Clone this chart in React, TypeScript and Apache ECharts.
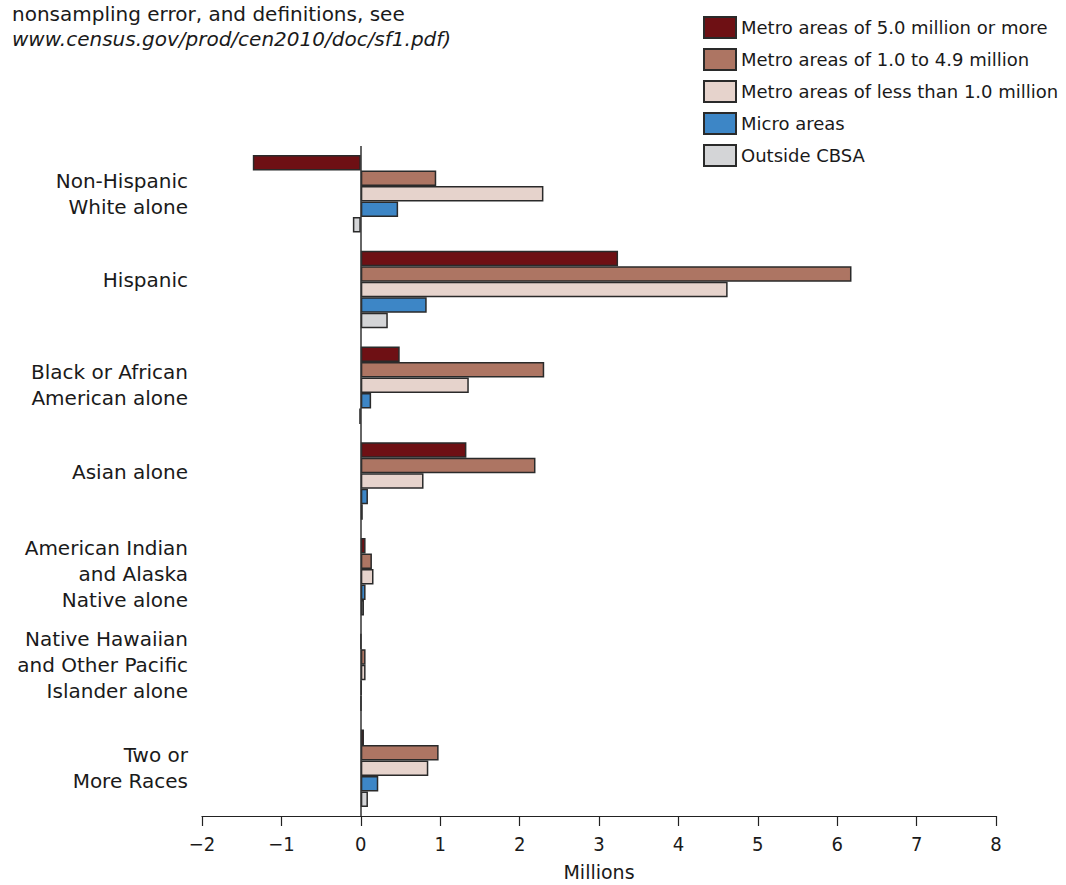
import React, { useEffect, useRef } from "react";
import * as echarts from "echarts";

const categories = [
  "Non-Hispanic\nWhite alone",
  "Hispanic",
  "Black or African\nAmerican alone",
  "Asian alone",
  "American Indian\nand Alaska\nNative alone",
  "Native Hawaiian\nand Other Pacific\nIslander alone",
  "Two or\nMore Races",
];

const seriesNames = [
  "Metro areas of 5.0 million or more",
  "Metro areas of 1.0 to 4.9 million",
  "Metro areas of less than 1.0 million",
  "Micro areas",
  "Outside CBSA",
];

const metroLarge = [-1.36, 3.24, 0.49, 1.33, 0.06, 0.003, 0.04];
const metroMid = [0.95, 6.18, 2.31, 2.2, 0.14, 0.06, 0.98];
const metroSmall = [2.3, 4.62, 1.36, 0.79, 0.16, 0.06, 0.85];
const micro = [0.47, 0.83, 0.13, 0.09, 0.06, 0.01, 0.22];
const outside = [-0.1, 0.34, -0.02, 0.025, 0.04, 0.005, 0.09];

const seriesData = [metroLarge, metroMid, metroSmall, micro, outside];
const colors = ["#6e1014", "#ad7563", "#e6d3cc", "#3d86c6", "#d4d5d7"];

const FONT = "'DejaVu Sans', 'Noto Sans', sans-serif";
const TICK_FONT = "'DejaVu Sans Condensed', 'Liberation Sans Narrow', 'Open Sans', sans-serif";

// label vertical nudges (style only): [spacer above, spacer below] in px
const labelNudge: [number, number][] = [
  [0, 0],
  [0, 20],
  [0, 0],
  [0, 18],
  [0, 6],
  [0, 14],
  [0, 0],
];

export default function App() {
  const ref = useRef<HTMLDivElement>(null);
  useEffect(() => {
    if (!ref.current) return;
    const chart = echarts.init(ref.current, undefined, { renderer: "svg" });
    const rich: Record<string, any> = {
      n: { fontSize: 20, lineHeight: 26, color: "#1a1a1a", fontFamily: FONT, align: "right" },
    };
    labelNudge.forEach(([t, b]) => {
      [t, b].forEach((h) => {
        if (h > 0) rich[`sp${h}`] = { fontSize: 1, lineHeight: h, height: h, align: "right" };
      });
    });
    chart.setOption({
      animation: false,
      backgroundColor: "#ffffff",
      textStyle: { fontFamily: FONT },
      graphic: [
        {
          type: "text",
          left: 12,
          top: 4,
          style: {
            text: "nonsampling error, and definitions, see",
            font: `20px ${FONT}`,
            fill: "#1a1a1a",
          },
        },
        {
          type: "text",
          left: 12,
          top: 29,
          style: {
            text: "www.census.gov/prod/cen2010/doc/sf1.pdf)",
            font: `italic 20px ${FONT}`,
            fill: "#1a1a1a",
          },
        },
      ],
      legend: {
        orient: "vertical",
        left: 698,
        top: 11,
        itemWidth: 32,
        itemHeight: 21,
        itemGap: 9,
        icon: "rect",
        textStyle: { fontSize: 18, lineHeight: 21, color: "#1a1a1a", fontFamily: FONT },
        data: seriesNames,
      },
      grid: { left: 202, width: 794, top: 146, height: 670, outerBoundsMode: "none", containLabel: false },
      xAxis: {
        type: "value",
        min: -2,
        max: 8,
        interval: 1,
        splitLine: { show: false },
        axisLine: { show: true, onZero: false, lineStyle: { color: "#222", width: 1.2 } },
        axisTick: { show: true, length: 10, lineStyle: { color: "#222", width: 1.2 } },
        axisLabel: {
          fontSize: 20,
          fontFamily: TICK_FONT,
          color: "#1a1a1a",
          margin: 18,
          formatter: (v: number) => (v < 0 ? "\u2212" + Math.abs(v) : String(v)),
        },
        name: "Millions",
        nameLocation: "middle",
        nameGap: 46,
        nameTextStyle: { fontSize: 19, lineHeight: 20, color: "#1a1a1a", fontFamily: FONT },
      },
      yAxis: {
        type: "category",
        inverse: true,
        data: categories,
        axisLine: { show: false },
        axisTick: { show: false },
        axisLabel: {
          margin: 14,
          align: "right",
          fontSize: 20,
          lineHeight: 26,
          color: "#1a1a1a",
          fontFamily: FONT,
          formatter: (value: string, index: number) => {
            const [t, b] = labelNudge[index] || [0, 0];
            const lines = value.split("\n").map((l) => `{n|${l}}`);
            if (t > 0) lines.unshift(`{sp${t}|\u00a0}`);
            if (b > 0) lines.push(`{sp${b}|\u00a0}`);
            return lines.join("\n");
          },
          rich,
        },
      },
      series: seriesData.map((d, i) => ({
        name: seriesNames[i],
        type: "bar",
        data: d,
        barGap: "0%",
        barCategoryGap: "19%",
        itemStyle: { color: colors[i], borderColor: "#2a2a2a", borderWidth: 1.5 },
        markLine:
          i === 0
            ? {
                silent: true,
                symbol: "none",
                label: { show: false },
                lineStyle: { color: "#333", width: 1.5, type: "solid" },
                data: [{ xAxis: 0 }],
              }
            : undefined,
      })),
    });
    return () => chart.dispose();
  }, []);
  return (
    <div
      ref={ref}
      style={{ position: "absolute", left: 0, top: 0, width: 1066, height: 885 }}
    />
  );
}
